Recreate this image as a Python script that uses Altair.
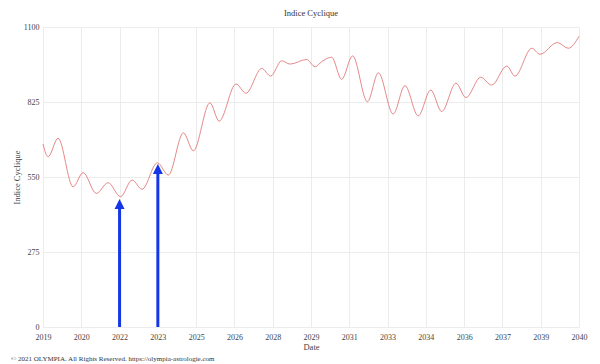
import altair as alt
import pandas as pd

# Curve extrema (decimal year, index value)
years = [2019.0, 2019.20, 2019.59, 2020.18, 2020.57, 2021.09, 2021.55, 2022.04,
         2022.49, 2022.88, 2023.48, 2023.91, 2024.50, 2024.89, 2025.54, 2025.90,
         2026.56, 2026.95, 2027.57, 2027.92, 2028.35, 2028.68, 2029.33, 2029.66,
         2029.92, 2030.31, 2030.70, 2031.13, 2031.71, 2032.14, 2032.72, 2033.18,
         2033.70, 2034.19, 2034.62, 2035.18, 2035.57, 2036.15, 2036.58, 2037.17,
         2037.49, 2038.15, 2038.47, 2039.15, 2039.58, 2040.0]
values = [671, 624, 692, 514, 566, 490, 529, 478,
          539, 505, 602, 557, 712, 646, 822, 755,
          891, 857, 948, 920, 976, 964, 981, 954,
          973, 989, 908, 994, 826, 932, 781, 885,
          774, 869, 790, 894, 841, 916, 887, 957,
          920, 1022, 1000, 1043, 1022, 1066]

x_tick_values = [2019 + 1.5 * i for i in range(15)]
x_tick_labels = ["2019", "2020", "2022", "2023", "2025", "2026", "2028", "2029",
                 "2031", "2033", "2034", "2036", "2037", "2039", "2040"]
y_tick_values = [0, 275, 550, 825, 1100]

arrow_x = [2022.0, 2023.5]
arrow_head = [451, 579]

copyright_text = ["© 2021 OLYMPIA. All Rights Reserved. https://olympia-astrologie.com"]

FONT = "Liberation Serif"
label_expr = "[" + ",".join("'" + s + "'" for s in x_tick_labels) + "][round((datum.value-2019)/1.5)]"

curve = pd.DataFrame({"year": years, "value": values})
arrows = pd.DataFrame({"year": arrow_x, "head": arrow_head, "base": [0, 0]})
note = pd.DataFrame({"t": copyright_text})

x_enc = alt.X("year:Q", title="Date",
              scale=alt.Scale(domain=[2019, 2040], nice=False, zero=False),
              axis=alt.Axis(values=x_tick_values, labelExpr=label_expr, tickCount=40,
                            labelOverlap=False, labelFlush=False, labelPadding=6))
y_enc = alt.Y("value:Q", title="Indice Cyclique",
              scale=alt.Scale(domain=[0, 1100], nice=False),
              axis=alt.Axis(values=y_tick_values, format="d", labelFlush=False,
                            labelOverlap=False, tickCount=10))

line = alt.Chart(curve).mark_line(color="#de6a6a", strokeWidth=0.8,
                                  interpolate="monotone").encode(x=x_enc, y=y_enc)

shaft = alt.Chart(arrows).mark_rule(color="#1436e6", strokeWidth=3).encode(
    x="year:Q", y="base:Q", y2="head:Q")

head = alt.Chart(arrows).mark_point(shape="M0,-1L1,1L-1,1Z", filled=True,
                                    color="#1436e6", opacity=1, size=100).encode(
    x="year:Q", y="head:Q")

text = alt.Chart(note).mark_text(align="left", baseline="middle", font=FONT,
                                 fontSize=7, color="#333").encode(
    x=alt.value(-32), y=alt.value(332), text="t:N")

chart = alt.layer(line, shaft, head, text).properties(
    width=536, height=300,
    title=alt.TitleParams("Indice Cyclique", font=FONT, fontSize=8.5,
                          fontWeight="normal", color="#333", offset=6),
    autosize=alt.AutoSizeParams(type="none"),
    padding={"left": 35, "top": 19, "right": 13, "bottom": 37},
).configure_view(stroke=None).configure_axis(
    labelFont=FONT, titleFont=FONT, labelFontSize=8, titleFontSize=8.5,
    titleFontWeight="normal", labelColor="#444", titleColor="#444",
    gridColor="#ececec", gridWidth=1, domain=False, ticks=False,
    labelPadding=4,
).configure_axisX(titlePadding=1).configure_axisY(titlePadding=2)

chart.save("out.html", embed_options={"renderer": "svg", "actions": False})
